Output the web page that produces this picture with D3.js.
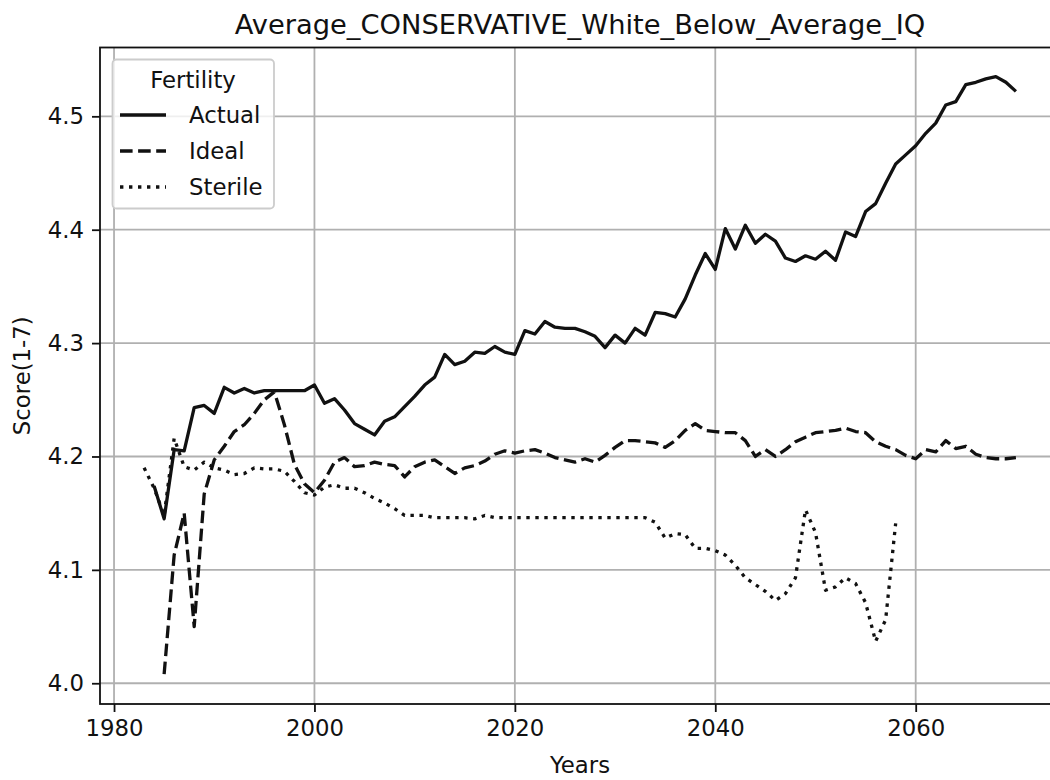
<!DOCTYPE html>
<html>
<head>
<meta charset="utf-8">
<script src="https://cdn.jsdelivr.net/npm/d3@7"></script>
<style>
  html, body { margin: 0; padding: 0; background: #fff; }
  svg { display: block; font-family: "DejaVu Sans", sans-serif; }
</style>
</head>
<body>
<svg id="chart" width="1050" height="780"></svg>
<script>
// data
const title = 'Average_CONSERVATIVE_White_Below_Average_IQ';
const legendTitle = 'Fertility';
const seriesNames = ['Actual', 'Ideal', 'Sterile'];

const actualYears = d3.range(1984, 2071);
const actualValues = [
  4.174, 4.145, 4.206, 4.205, 4.243, 4.245, 4.238, 4.261, 4.256, 4.260,
  4.256, 4.258, 4.258, 4.258, 4.258, 4.258, 4.263, 4.247, 4.251, 4.241,
  4.229, 4.224, 4.219, 4.231, 4.235, 4.244, 4.253, 4.263, 4.270, 4.290,
  4.281, 4.284, 4.292, 4.291, 4.297, 4.292, 4.290, 4.311, 4.308, 4.319,
  4.314, 4.313, 4.313, 4.310, 4.306, 4.296, 4.307, 4.300, 4.313, 4.307,
  4.327, 4.326, 4.323, 4.339, 4.360, 4.379, 4.365, 4.401, 4.383, 4.404,
  4.388, 4.396, 4.390, 4.375, 4.372, 4.377, 4.374, 4.381, 4.373, 4.398,
  4.394, 4.416, 4.423, 4.441, 4.458, 4.466, 4.474, 4.485, 4.494, 4.510,
  4.513, 4.528, 4.530, 4.533, 4.535, 4.530, 4.522
];

const idealYears = d3.range(1985, 2071);
const idealValues = [
  4.008, 4.113, 4.150, 4.050, 4.167, 4.197, 4.209, 4.222, 4.228, 4.238,
  4.250, 4.257, 4.228, 4.193, 4.176, 4.168, 4.179, 4.195, 4.199, 4.191,
  4.192, 4.195, 4.193, 4.192, 4.182, 4.191, 4.195, 4.197, 4.191, 4.185,
  4.190, 4.192, 4.196, 4.202, 4.205, 4.203, 4.205, 4.206, 4.203, 4.199,
  4.197, 4.195, 4.198, 4.195, 4.201, 4.208, 4.214, 4.214, 4.213, 4.212,
  4.208, 4.214, 4.223, 4.229, 4.223, 4.222, 4.221, 4.221, 4.214, 4.200,
  4.206, 4.200, 4.206, 4.213, 4.217, 4.221, 4.222, 4.223, 4.225, 4.222,
  4.221, 4.213, 4.209, 4.206, 4.201, 4.198, 4.206, 4.204, 4.214, 4.207,
  4.209, 4.202, 4.199, 4.198, 4.198, 4.199
];

const sterileYears = d3.range(1983, 2059);
const sterileValues = [
  4.190, 4.172, 4.148, 4.216, 4.191, 4.188, 4.195, 4.190, 4.188, 4.184,
  4.185, 4.190, 4.189, 4.189, 4.187, 4.178, 4.168, 4.166, 4.173, 4.175,
  4.172, 4.172, 4.168, 4.163, 4.159, 4.154, 4.148, 4.148, 4.148, 4.146,
  4.146, 4.146, 4.146, 4.145, 4.148, 4.146, 4.146, 4.146, 4.146, 4.146,
  4.146, 4.146, 4.146, 4.146, 4.146, 4.146, 4.146, 4.146, 4.146, 4.146,
  4.146, 4.142, 4.128, 4.132, 4.131, 4.119, 4.119, 4.117, 4.113, 4.104,
  4.093, 4.087, 4.081, 4.073, 4.079, 4.093, 4.153, 4.133, 4.082, 4.085,
  4.093, 4.088, 4.071, 4.037, 4.056, 4.141
];

const xTicks = [1980, 2000, 2020, 2040, 2060];
const yTicks = [4.0, 4.1, 4.2, 4.3, 4.4, 4.5];

const svg = d3.select('#chart');
const fs = 22.8;
const plot = {left: 100, right: 1060, top: 47.5, bottom: 704};

const x = d3.scaleLinear().domain([1978.6, 2074.4]).range([plot.left, plot.right]);
const y = d3.scaleLinear().domain([3.9817, 4.5607]).range([plot.bottom, plot.top]);

// grid
const grid = svg.append('g').attr('stroke', '#b0b0b0').attr('stroke-width', 1.8);
grid.selectAll('.vg').data(xTicks).join('line')
  .attr('x1', d => x(d)).attr('x2', d => x(d))
  .attr('y1', plot.top).attr('y2', plot.bottom);
grid.selectAll('.hg').data(yTicks).join('line')
  .attr('x1', plot.left).attr('x2', plot.right)
  .attr('y1', d => y(d)).attr('y2', d => y(d));

// series
const series = [
  {name: seriesNames[0], years: actualYears, values: actualValues, dash: null},
  {name: seriesNames[1], years: idealYears, values: idealValues, dash: '12.6,5.5'},
  {name: seriesNames[2], years: sterileYears, values: sterileValues, dash: '3.4,5.6'}
];

const line = d3.line().x(d => x(d[0])).y(d => y(d[1]));
svg.append('g').selectAll('path').data(series).join('path')
  .attr('d', s => line(s.years.map((yr, i) => [yr, s.values[i]])))
  .attr('fill', 'none')
  .attr('stroke', '#111')
  .attr('stroke-width', 3.3)
  .attr('stroke-linejoin', 'round')
  .attr('stroke-dasharray', s => s.dash);

// axes
const xAxis = svg.append('g').attr('transform', `translate(0,${plot.bottom})`)
  .call(d3.axisBottom(x).tickValues(xTicks).tickFormat(d3.format('d')).tickSize(8).tickPadding(8));
const yAxis = svg.append('g').attr('transform', `translate(${plot.left},0)`)
  .call(d3.axisLeft(y).tickValues(yTicks).tickFormat(d3.format('.1f')).tickSize(8).tickPadding(8));
[xAxis, yAxis].forEach(a => {
  a.select('.domain').remove();
  a.selectAll('line').attr('stroke', '#111').attr('stroke-width', 1.8);
  a.selectAll('text').attr('fill', '#111').style('font-size', fs + 'px').style('font-family', '"DejaVu Sans"');
});

// spines
svg.append('rect')
  .attr('x', plot.left).attr('y', plot.top)
  .attr('width', plot.right - plot.left).attr('height', plot.bottom - plot.top)
  .attr('fill', 'none').attr('stroke', '#111').attr('stroke-width', 1.8);

// labels
svg.append('text').attr('x', (plot.left + plot.right) / 2).attr('y', 34)
  .attr('text-anchor', 'middle').style('font-size', '27.3px').attr('fill', '#111').text(title);
svg.append('text').attr('x', (plot.left + plot.right) / 2).attr('y', 773)
  .attr('text-anchor', 'middle').style('font-size', fs + 'px').attr('fill', '#111').text('Years');
svg.append('text').attr('transform', `translate(30,${(plot.top + plot.bottom) / 2}) rotate(-90)`)
  .attr('text-anchor', 'middle').style('font-size', fs + 'px').attr('fill', '#111').text('Score(1-7)');

// legend
const lg = svg.append('g');
lg.append('rect').attr('x', 112.5).attr('y', 59.5).attr('width', 161.5).attr('height', 149)
  .attr('rx', 4).attr('fill', '#fff').attr('fill-opacity', 0.8)
  .attr('stroke', '#cccccc').attr('stroke-width', 1.8);
lg.append('text').attr('x', 193).attr('y', 80).attr('dy', '0.35em')
  .attr('text-anchor', 'middle').style('font-size', fs + 'px').attr('fill', '#111').text(legendTitle);
const item = lg.selectAll('.item').data(series).join('g')
  .attr('transform', (d, i) => `translate(0,${115 + i * 36})`);
item.append('line').attr('x1', 120).attr('x2', 166).attr('y1', 0).attr('y2', 0)
  .attr('stroke', '#111').attr('stroke-width', 3.3)
  .attr('stroke-dasharray', d => d.dash);
item.append('text').attr('x', 189).attr('dy', '0.35em')
  .style('font-size', fs + 'px').attr('fill', '#111').text(d => d.name);
</script>
</body>
</html>
